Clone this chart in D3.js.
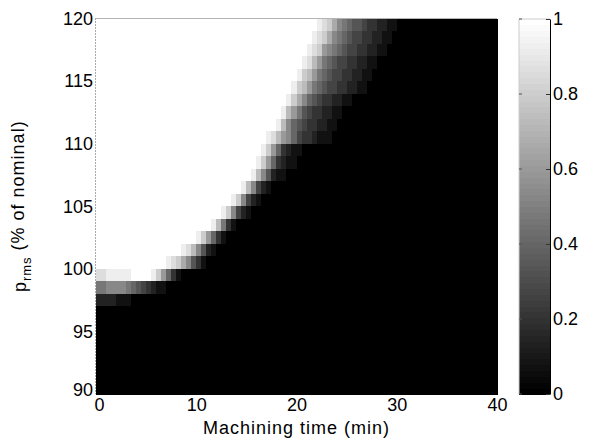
<!DOCTYPE html>
<html>
<head>
<meta charset="utf-8">
<script src="https://cdn.jsdelivr.net/npm/d3@7/dist/d3.min.js"></script>
<style>
  body { margin: 0; background: #fff; }
  svg text { font-family: "Liberation Sans", Arial, Helvetica, sans-serif; fill: #000; }
</style>
</head>
<body>
<svg id="chart" width="596" height="442"></svg>
<script>
// tick labels
const xTicks = [0, 10, 20, 30, 40];
const yTicks = [90, 95, 100, 105, 110, 115, 120];
const cbTicks = [0, 0.2, 0.4, 0.6, 0.8, 1];

// grid: columns every 0.5 min, rows 1 % wide (lower edge listed, top row first)
const timeStep = 0.5;
const pBands = [119, 118, 117, 116, 115, 114, 113, 112, 111, 110,
                109, 108, 107, 106, 105, 104, 103, 102, 101, 100,
                99, 98, 97, 96, 95, 94, 93, 92, 91, 90];

// gray level per cell, hex 0..f (0 = black, f = white), 80 columns per row
const bandLevels = [
  'ffffffffff ffffffffff ffffffffff ffffffffff ffffedca87 6554332211 0000000000 0000000000', // 119
  'ffffffffff ffffffffff ffffffffff ffffffffff fffedca876 5443322110 0000000000 0000000000', // 118
  'ffffffffff ffffffffff ffffffffff ffffffffff ffedc98765 4433221100 0000000000 0000000000', // 117
  'ffffffffff ffffffffff ffffffffff ffffffffff fedb976544 3322110000 0000000000 0000000000', // 116
  'ffffffffff ffffffffff ffffffffff ffffffffff ecb9765443 3221100000 0000000000 0000000000', // 115
  'ffffffffff ffffffffff ffffffffff fffffffffe cb97654433 2211000000 0000000000 0000000000', // 114
  'ffffffffff ffffffffff ffffffffff ffffffffec a865433221 1000000000 0000000000 0000000000', // 113
  'ffffffffff ffffffffff ffffffffff fffffffeb9 7543322110 0000000000 0000000000 0000000000', // 112
  'ffffffffff ffffffffff ffffffffff ffffffeb86 5433221100 0000000000 0000000000 0000000000', // 111
  'ffffffffff ffffffffff ffffffffff ffffedb986 4332111000 0000000000 0000000000 0000000000', // 110
  'ffffffffff ffffffffff ffffffffff fffec96321 1000000000 0000000000 0000000000 0000000000', // 109
  'ffffffffff ffffffffff ffffffffff ffec963211 0000000000 0000000000 0000000000 0000000000', // 108
  'ffffffffff ffffffffff ffffffffff feb8521100 0000000000 0000000000 0000000000 0000000000', // 107
  'ffffffffff ffffffffff fffffffffe b842100000 0000000000 0000000000 0000000000 0000000000', // 106
  'ffffffffff ffffffffff fffffffec8 4210000000 0000000000 0000000000 0000000000 0000000000', // 105
  'ffffffffff ffffffffff fffffec842 1000000000 0000000000 0000000000 0000000000 0000000000', // 104
  'ffffffffff ffffffffff fffeb73100 0000000000 0000000000 0000000000 0000000000 0000000000', // 103
  'ffffffffff ffffffffff ec96310000 0000000000 0000000000 0000000000 0000000000 0000000000', // 102
  'ffffffffff fffffffedb 8521000000 0000000000 0000000000 0000000000 0000000000 0000000000', // 101
  'ffffffffff ffffedca85 3100000000 0000000000 0000000000 0000000000 0000000000 0000000000', // 100
  'ddeeeeefff fec9631000 0000000000 0000000000 0000000000 0000000000 0000000000 0000000000', // 99
  '7788887654 3211000000 0000000000 0000000000 0000000000 0000000000 0000000000 0000000000', // 98
  '2222111000 0000000000 0000000000 0000000000 0000000000 0000000000 0000000000 0000000000', // 97
  '0000000000 0000000000 0000000000 0000000000 0000000000 0000000000 0000000000 0000000000', // 96
  '0000000000 0000000000 0000000000 0000000000 0000000000 0000000000 0000000000 0000000000', // 95
  '0000000000 0000000000 0000000000 0000000000 0000000000 0000000000 0000000000 0000000000', // 94
  '0000000000 0000000000 0000000000 0000000000 0000000000 0000000000 0000000000 0000000000', // 93
  '0000000000 0000000000 0000000000 0000000000 0000000000 0000000000 0000000000 0000000000', // 92
  '0000000000 0000000000 0000000000 0000000000 0000000000 0000000000 0000000000 0000000000', // 91
  '0000000000 0000000000 0000000000 0000000000 0000000000 0000000000 0000000000 0000000000'  // 90
];

const svg = d3.select('#chart');
const plot = { left: 96, right: 497, top: 18.5, bottom: 394 };
const bar = { left: 519, right: 550, top: 19, bottom: 394 };
const fontSize = '18px';

const x = d3.scaleLinear().domain([0, 40]).range([plot.left, plot.right]);
const y = d3.scaleLinear().domain([90, 120]).range([plot.bottom, plot.top]);
const gray = d3.scaleLinear().domain([0, 1]).range(['#000', '#fff']);

const cells = [];
bandLevels.forEach((row, i) => {
  row.replace(/\s/g, '').split('').forEach((c, k) => {
    cells.push({ p: pBands[i], t: k * timeStep, v: parseInt(c, 16) / 15 });
  });
});

svg.append('g')
  .attr('shape-rendering', 'crispEdges')
  .selectAll('rect')
  .data(cells)
  .join('rect')
  .attr('x', (d) => x(d.t))
  .attr('y', (d) => y(d.p + 1))
  .attr('width', (d) => x(d.t + timeStep) - x(d.t) + 0.5)
  .attr('height', (d) => y(d.p) - y(d.p + 1) + 0.5)
  .attr('fill', (d) => gray(d.v));

// axes frame: faint top border, dotted left axis
svg.append('line')
  .attr('x1', plot.left).attr('x2', plot.right)
  .attr('y1', plot.top).attr('y2', plot.top)
  .attr('stroke', '#b4b4b4').attr('stroke-width', 1);
svg.append('line')
  .attr('x1', plot.left - 0.5).attr('x2', plot.left - 0.5)
  .attr('y1', plot.top).attr('y2', plot.bottom)
  .attr('stroke', '#555').attr('stroke-width', 1)
  .attr('stroke-dasharray', '1,2');

const xAxis = svg.append('g')
  .attr('transform', `translate(0,${plot.bottom})`)
  .call(d3.axisBottom(x).tickValues(xTicks).tickSize(0).tickPadding(4));
const yAxis = svg.append('g')
  .attr('transform', `translate(${plot.left},0)`)
  .call(d3.axisLeft(y).tickValues(yTicks).tickSize(0).tickPadding(3));

[xAxis, yAxis].forEach((g) => {
  g.select('.domain').remove();
  g.selectAll('text').style('font-size', fontSize).attr('fill', '#000');
});
// corner labels sit apart as in the original: 90 a bit raised, 0 a bit right
yAxis.selectAll('.tick').filter((d) => d === 90).select('text').attr('y', -4);
xAxis.selectAll('.tick').filter((d) => d === 0).select('text').attr('x', 3);

svg.append('text')
  .attr('x', (plot.left + plot.right) / 2)
  .attr('y', 434)
  .attr('text-anchor', 'middle')
  .style('font-size', fontSize)
  .style('letter-spacing', '1px')
  .text('Machining time (min)');

const yTitle = svg.append('text')
  .attr('transform', `translate(26,${(plot.top + plot.bottom) / 2}) rotate(-90)`)
  .attr('text-anchor', 'middle')
  .style('font-size', fontSize)
  .style('letter-spacing', '1px');
yTitle.append('tspan').text('p');
yTitle.append('tspan').attr('dy', '0.35em').style('font-size', '13px').text('rms');
yTitle.append('tspan').attr('dy', '-0.35em').text(' (% of nominal)');

// colorbar
const cy = d3.scaleLinear().domain([0, 1]).range([bar.bottom, bar.top]);
const steps = d3.range(64).map((i) => i / 63);
svg.append('g')
  .attr('shape-rendering', 'crispEdges')
  .selectAll('rect')
  .data(steps)
  .join('rect')
  .attr('x', bar.left)
  .attr('width', bar.right - bar.left)
  .attr('y', (d, i) => cy((i + 1) / 64))
  .attr('height', (bar.bottom - bar.top) / 64 + 0.5)
  .attr('fill', (d) => gray(d));

svg.append('line')
  .attr('x1', bar.left).attr('x2', bar.left)
  .attr('y1', bar.top).attr('y2', bar.bottom)
  .attr('stroke', '#ccc');
svg.append('line')
  .attr('x1', bar.left).attr('x2', bar.right)
  .attr('y1', bar.top).attr('y2', bar.top)
  .attr('stroke', '#ccc');

const cbAxis = svg.append('g')
  .attr('transform', `translate(${bar.right},0)`)
  .call(d3.axisRight(cy).tickValues(cbTicks).tickFormat(d3.format('~g'))
    .tickSizeInner(-4).tickSizeOuter(0).tickPadding(3));
cbAxis.select('.domain').attr('stroke', '#000');
cbAxis.selectAll('.tick line').attr('stroke', '#333');
cbAxis.selectAll('text').style('font-size', fontSize).attr('fill', '#000')
  .attr('x', 3);

svg.append('g')
  .selectAll('line')
  .data(cbTicks)
  .join('line')
  .attr('x1', bar.left).attr('x2', bar.left + 3)
  .attr('y1', (d) => cy(d)).attr('y2', (d) => cy(d))
  .attr('stroke', '#555');
</script>
</body>
</html>
